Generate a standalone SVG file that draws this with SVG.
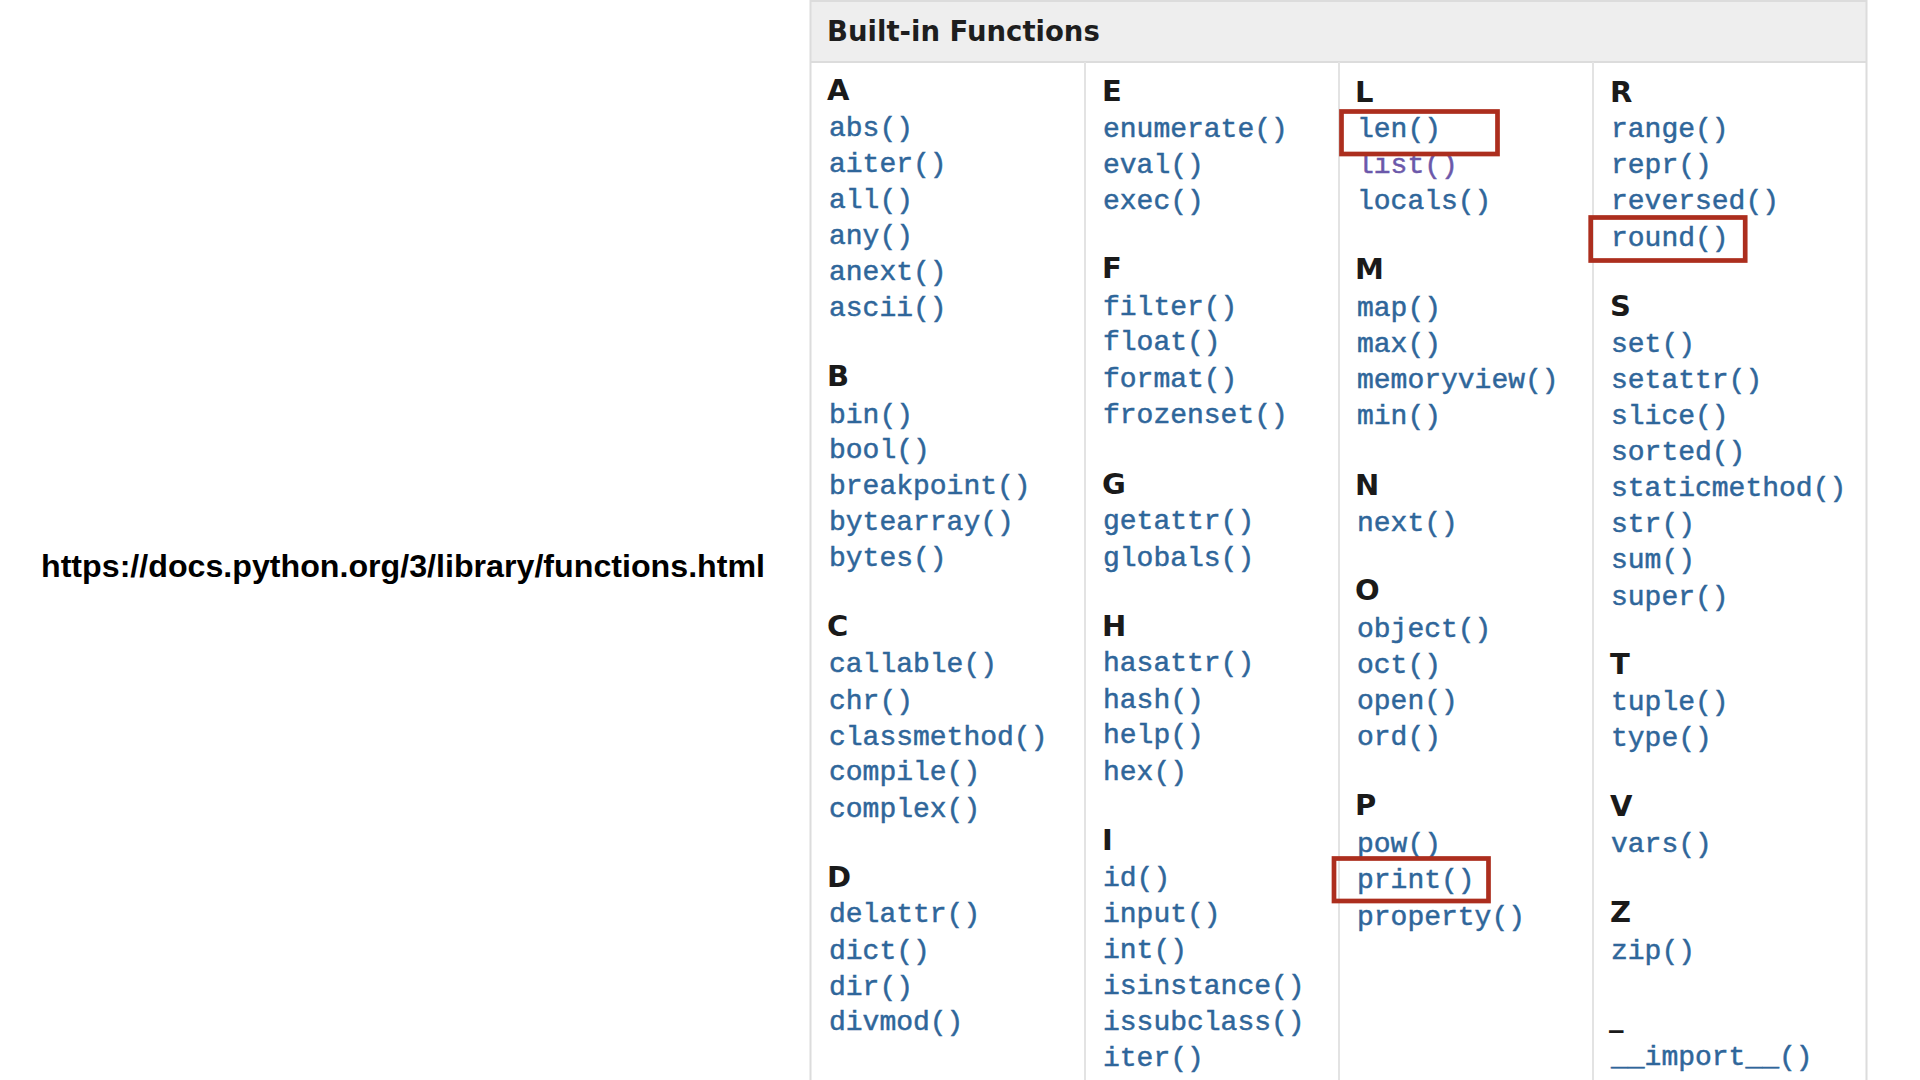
<svg xmlns="http://www.w3.org/2000/svg" width="1920" height="1080" viewBox="0 0 1920 1080">
<style>
.url{font-family:"Liberation Sans",Arial,sans-serif;font-weight:bold;font-size:32px;fill:#000}
.hdr{font-family:"DejaVu Sans","Liberation Sans",sans-serif;font-weight:bold;font-size:27.5px;fill:#1e1e1e}
.let{font-family:"DejaVu Sans","Liberation Sans",sans-serif;font-weight:bold;font-size:29px;fill:#1a1a1a}
.fn{font-family:"Liberation Mono","Courier New",monospace;font-size:28px;fill:#2f669a;stroke:#2f669a;stroke-width:0.5}
.vis{fill:#6b58aa;stroke:#6b58aa}
.box{fill:none;stroke:#ac2e1e;stroke-width:4.7}
.bd{stroke:#dcdcdc;stroke-width:2}
.dv{stroke:#e3e3e3;stroke-width:2}
</style>
<rect width="1920" height="1080" fill="#ffffff"/>
<text class="url" x="41" y="577" textLength="724" lengthAdjust="spacingAndGlyphs">https://docs.python.org/3/library/functions.html</text>
<g id="panel">
<rect x="810" y="0" width="1057" height="62" fill="#eeeeee"/>
<line class="bd" x1="810" y1="1" x2="1867" y2="1"/>
<line class="bd" x1="810" y1="62" x2="1867" y2="62"/>
<line class="bd" x1="810.5" y1="0" x2="810.5" y2="1080"/>
<line class="bd" x1="1866.5" y1="0" x2="1866.5" y2="1080"/>
<line class="dv" x1="1085" y1="62" x2="1085" y2="1080"/>
<line class="dv" x1="1339" y1="62" x2="1339" y2="1080"/>
<line class="dv" x1="1593" y1="62" x2="1593" y2="1080"/>
<text class="hdr" x="827" y="41">Built-in Functions</text>
</g>
<g id="col1">
<g id="sec-A"><text class="let" x="827" y="100">A</text>
<text class="fn" x="829" y="136">abs()</text><text class="fn" x="829" y="172">aiter()</text><text class="fn" x="829" y="208">all()</text><text class="fn" x="829" y="244">any()</text><text class="fn" x="829" y="280">anext()</text><text class="fn" x="829" y="316">ascii()</text></g>
<g id="sec-B"><text class="let" x="827" y="386">B</text>
<text class="fn" x="829" y="423">bin()</text><text class="fn" x="829" y="458">bool()</text><text class="fn" x="829" y="494">breakpoint()</text><text class="fn" x="829" y="530">bytearray()</text><text class="fn" x="829" y="566">bytes()</text></g>
<g id="sec-C"><text class="let" x="827" y="636">C</text>
<text class="fn" x="829" y="672">callable()</text><text class="fn" x="829" y="709">chr()</text><text class="fn" x="829" y="745">classmethod()</text><text class="fn" x="829" y="780">compile()</text><text class="fn" x="829" y="817">complex()</text></g>
<g id="sec-D"><text class="let" x="827" y="887">D</text>
<text class="fn" x="829" y="922">delattr()</text><text class="fn" x="829" y="959">dict()</text><text class="fn" x="829" y="995">dir()</text><text class="fn" x="829" y="1030">divmod()</text></g>
</g>
<g id="col2">
<g id="sec-E"><text class="let" x="1102" y="101">E</text>
<text class="fn" x="1103" y="137">enumerate()</text><text class="fn" x="1103" y="173">eval()</text><text class="fn" x="1103" y="209">exec()</text></g>
<g id="sec-F"><text class="let" x="1102" y="278">F</text>
<text class="fn" x="1103" y="315">filter()</text><text class="fn" x="1103" y="350">float()</text><text class="fn" x="1103" y="387">format()</text><text class="fn" x="1103" y="423">frozenset()</text></g>
<g id="sec-G"><text class="let" x="1102" y="494">G</text>
<text class="fn" x="1103" y="529">getattr()</text><text class="fn" x="1103" y="566">globals()</text></g>
<g id="sec-H"><text class="let" x="1102" y="636">H</text>
<text class="fn" x="1103" y="671">hasattr()</text><text class="fn" x="1103" y="708">hash()</text><text class="fn" x="1103" y="743">help()</text><text class="fn" x="1103" y="780">hex()</text></g>
<g id="sec-I"><text class="let" x="1102" y="850">I</text>
<text class="fn" x="1103" y="886">id()</text><text class="fn" x="1103" y="922">input()</text><text class="fn" x="1103" y="958">int()</text><text class="fn" x="1103" y="994">isinstance()</text><text class="fn" x="1103" y="1030">issubclass()</text><text class="fn" x="1103" y="1066">iter()</text></g>
</g>
<g id="col3">
<g id="sec-L"><text class="let" x="1355" y="102">L</text>
<text class="fn" x="1357" y="137">len()</text><text class="fn vis" x="1357" y="173">list()</text><text class="fn" x="1357" y="209">locals()</text></g>
<g id="sec-M"><text class="let" x="1355" y="279">M</text>
<text class="fn" x="1357" y="316">map()</text><text class="fn" x="1357" y="352">max()</text><text class="fn" x="1357" y="388">memoryview()</text><text class="fn" x="1357" y="424">min()</text></g>
<g id="sec-N"><text class="let" x="1355" y="495">N</text>
<text class="fn" x="1357" y="531">next()</text></g>
<g id="sec-O"><text class="let" x="1355" y="600">O</text>
<text class="fn" x="1357" y="637">object()</text><text class="fn" x="1357" y="673">oct()</text><text class="fn" x="1357" y="709">open()</text><text class="fn" x="1357" y="745">ord()</text></g>
<g id="sec-P"><text class="let" x="1355" y="815">P</text>
<text class="fn" x="1357" y="852">pow()</text><text class="fn" x="1357" y="888">print()</text><text class="fn" x="1357" y="925">property()</text></g>
</g>
<g id="col4">
<g id="sec-R"><text class="let" x="1610" y="102">R</text>
<text class="fn" x="1611" y="137">range()</text><text class="fn" x="1611" y="173">repr()</text><text class="fn" x="1611" y="209">reversed()</text><text class="fn" x="1611" y="246">round()</text></g>
<g id="sec-S"><text class="let" x="1610" y="316">S</text>
<text class="fn" x="1611" y="352">set()</text><text class="fn" x="1611" y="388">setattr()</text><text class="fn" x="1611" y="424">slice()</text><text class="fn" x="1611" y="460">sorted()</text><text class="fn" x="1611" y="496">staticmethod()</text><text class="fn" x="1611" y="532">str()</text><text class="fn" x="1611" y="568">sum()</text><text class="fn" x="1611" y="605">super()</text></g>
<g id="sec-T"><text class="let" x="1610" y="674">T</text>
<text class="fn" x="1611" y="710">tuple()</text><text class="fn" x="1611" y="746">type()</text></g>
<g id="sec-V"><text class="let" x="1610" y="816">V</text>
<text class="fn" x="1611" y="852">vars()</text></g>
<g id="sec-Z"><text class="let" x="1610" y="922">Z</text>
<text class="fn" x="1611" y="959">zip()</text></g>
<g id="sec-_"><text class="let" x="1609" y="1026">_</text>
<text class="fn" x="1611" y="1065">__import__()</text></g>
</g>
<g id="highlights">
<rect id="box-len" class="box" x="1341.5" y="111.5" width="156" height="42.5"/>
<rect id="box-round" class="box" x="1590.7" y="217.5" width="154.5" height="43"/>
<rect id="box-print" class="box" x="1334" y="858.5" width="154.5" height="42.5"/>
</g>
</svg>
